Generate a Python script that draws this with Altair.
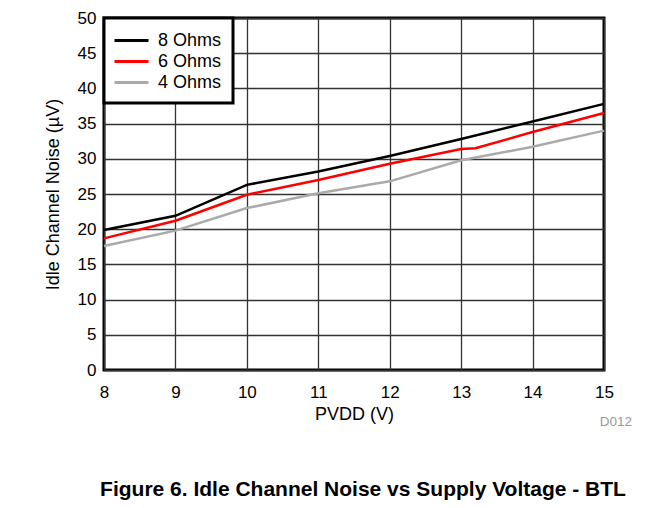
import altair as alt
import pandas as pd

pvdd = [8, 9, 10, 11, 12, 13, 14, 15]
ohm8 = [19.9, 21.9, 26.3, 28.2, 30.4, 32.8, 35.3, 37.8]
pvdd6 = [8, 9, 10, 11, 12, 13, 13.2, 14, 15]
ohm6 = [18.7, 21.2, 24.9, 27.0, 29.3, 31.4, 31.5, 33.8, 36.5]
ohm4 = [17.6, 19.8, 23.0, 25.1, 26.8, 29.8, 31.7, 34.0]
series = ["8 Ohms", "6 Ohms", "4 Ohms"]
colors = ["#000000", "#ff0000", "#aaaaaa"]
x_ticks = [8, 9, 10, 11, 12, 13, 14, 15]
y_ticks = [0, 5, 10, 15, 20, 25, 30, 35, 40, 45, 50]

rows = []
for x, y in zip(pvdd, ohm8):
    rows.append({"x": x, "y": y, "s": "8 Ohms"})
for x, y in zip(pvdd6, ohm6):
    rows.append({"x": x, "y": y, "s": "6 Ohms"})
for x, y in zip(pvdd, ohm4):
    rows.append({"x": x, "y": y, "s": "4 Ohms"})
df = pd.DataFrame(rows)

FONT = "Liberation Sans"

lines = alt.Chart(df).mark_line(strokeWidth=2.5).encode(
    x=alt.X("x:Q", scale=alt.Scale(domain=[8, 15], nice=False),
            axis=alt.Axis(title="PVDD (V)", values=x_ticks, labelOverlap=False, labelFlush=False)),
    y=alt.Y("y:Q", scale=alt.Scale(domain=[0, 50], nice=False),
            axis=alt.Axis(title="Idle Channel Noise (µV)", values=y_ticks, labelOverlap=False)),
    color=alt.Color("s:N", sort=series,
                    scale=alt.Scale(domain=series, range=colors),
                    legend=alt.Legend(title=None, orient="none", legendX=0, legendY=0,
                                      symbolType="M-1.7,0H1.7", symbolSize=400, symbolStrokeWidth=3,
                                      symbolOffset=5,
                                      labelFontSize=18, labelFont=FONT, labelColor="black",
                                      strokeColor="black", fillColor="white",
                                      padding=11, rowPadding=0, labelOffset=15)),
    order=alt.Order("x:Q"),
)

note = alt.Chart(pd.DataFrame({"t": ["D012"]})).mark_text(
    font=FONT, fontSize=13.5, color="#999999", align="center", baseline="middle"
).encode(text="t:N", x=alt.value(512), y=alt.value(404))

chart = alt.layer(lines, note).properties(
    width=500, height=352,
    title=alt.TitleParams("Figure 6. Idle Channel Noise vs Supply Voltage - BTL",
                          orient="bottom", anchor="middle", font=FONT, fontSize=21,
                          fontWeight="bold", color="black", offset=50, dx=9),
    autosize=alt.AutoSizeParams(type="none"),
    padding={"left": 96, "top": 10, "right": 59, "bottom": 130},
).configure_view(stroke="black", strokeWidth=3).configure_axis(
    domain=False, ticks=False, grid=True, gridColor="#333333", gridWidth=1.3,
    labelFont=FONT, labelFontSize=17, labelColor="black",
    titleFont=FONT, titleFontSize=18, titleColor="black", titleFontWeight="normal",
).configure_axisX(labelPadding=14, titlePadding=5).configure_axisY(
    labelPadding=8, titlePadding=15
).configure_legend(strokeWidth=3)

chart.save("out.html", embed_options={"renderer": "svg", "actions": False})
